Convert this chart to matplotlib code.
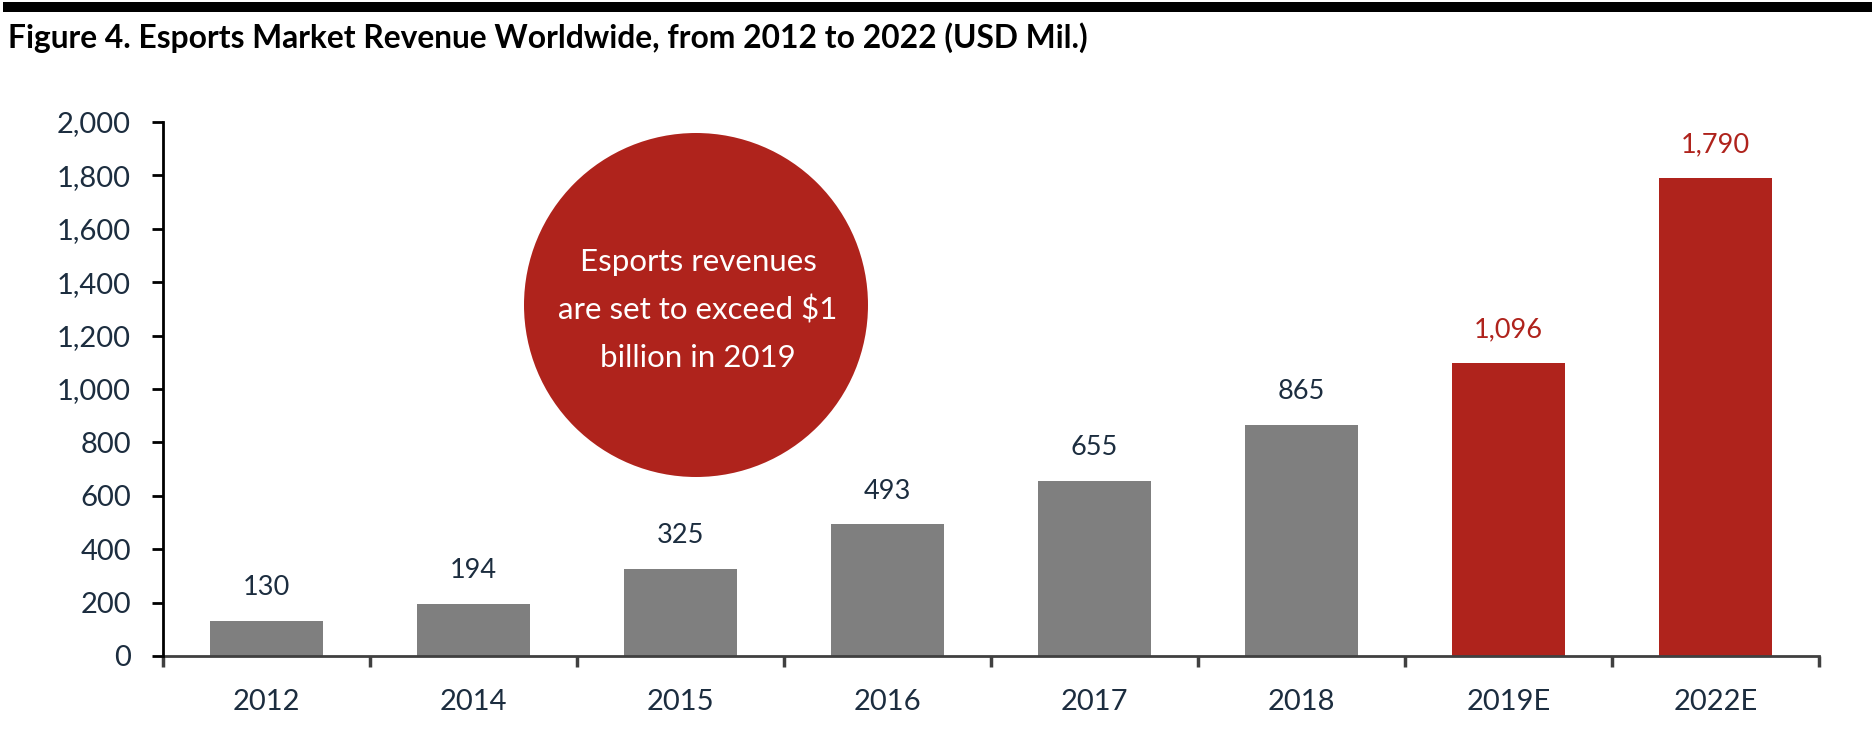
import matplotlib
matplotlib.use("Agg")
import matplotlib.pyplot as plt
from matplotlib.patches import Rectangle, Ellipse
from matplotlib.ticker import FuncFormatter, FixedLocator

# datos del gráfico
categorias = ["2012", "2014", "2015", "2016", "2017", "2018", "2019E", "2022E"]
ingresos = [130, 194, 325, 493, 655, 865, 1096, 1790]
es_estimado = [False, False, False, False, False, False, True, True]

titulo = "Figure 4. Esports Market Revenue Worldwide, from 2012 to 2022 (USD Mil.)"
texto_circulo = ["Esports revenues", "are set to exceed $1", "billion in 2019"]

GRIS = "#7f7f7f"
ROJO = "#af231c"
AZUL_OSCURO = "#1c2d3f"

plt.rcParams["font.family"] = ["Lato", "DejaVu Sans"]

W, H = 1872, 734
fig = plt.figure(figsize=(W / 100, H / 100), dpi=100)

# ejes ubicados en píxeles del original
ax = fig.add_axes([163 / W, (H - 656) / H, (1819 - 163) / W, (656 - 122) / H])

x = list(range(len(categorias)))
colores = [ROJO if e else GRIS for e in es_estimado]
ax.bar(x, ingresos, width=0.55, color=colores, zorder=2)

for xi, v, e in zip(x, ingresos, es_estimado):
    ax.annotate(f"{v:,}", (xi, v), xytext=(0, 24), textcoords="offset points",
                ha="center", va="center", fontsize=19.5,
                color=ROJO if e else AZUL_OSCURO)

ax.set_xlim(-0.5, len(categorias) - 0.5)
ax.set_ylim(0, 2000)
ax.set_yticks(range(0, 2001, 200))
ax.yaxis.set_major_formatter(FuncFormatter(lambda v, p: f"{int(v):,}"))
ax.set_xticks(x)
ax.set_xticklabels(categorias)
ax.xaxis.set_minor_locator(FixedLocator([i - 0.5 for i in range(len(categorias) + 1)]))

ax.tick_params(axis="y", direction="out", length=8, width=2, color="black",
               pad=15, labelsize=21, labelcolor=AZUL_OSCURO)
ax.tick_params(axis="x", which="major", length=0, pad=24, labelsize=21,
               labelcolor=AZUL_OSCURO)
ax.tick_params(axis="x", which="minor", direction="out", length=8, width=2.5,
               color="#404040")

for lado in ["top", "right"]:
    ax.spines[lado].set_visible(False)
ax.spines["left"].set_linewidth(2)
ax.spines["left"].set_color("black")
ax.spines["bottom"].set_linewidth(2)
ax.spines["bottom"].set_color("#404040")
ax.spines["left"].set_zorder(3)

# barra negra superior y título
fig.add_artist(Rectangle((3 / W, 1 - 12 / H), 1, 10 / H, transform=fig.transFigure,
                         color="black", lw=0))
fig.text(8 / W, 1 - 48 / H, titulo, fontsize=22.9, fontweight="bold",
         ha="left", va="baseline", color="black")

# círculo con el comentario
cx, cy, r = 696, 305, 172
fig.add_artist(Ellipse((cx / W, 1 - cy / H), 2 * r / W, 2 * r / H,
                       transform=fig.transFigure, color=ROJO, lw=0, zorder=5))
for linea, yy in zip(texto_circulo, [262, 310, 358]):
    fig.text(698 / W, 1 - yy / H, linea, fontsize=22.5, color="white",
             ha="center", va="center", zorder=6)

fig.savefig("out.png", dpi=100)
